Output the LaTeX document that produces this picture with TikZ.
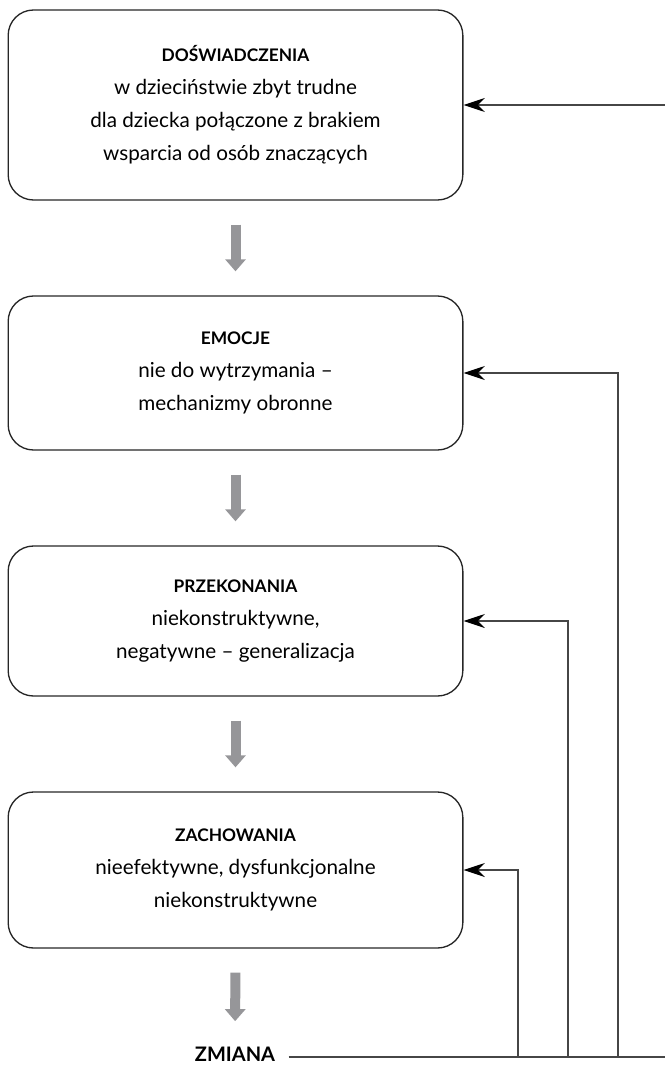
\documentclass[tikz,border=0pt]{standalone}
\usepackage{fontspec}
\setmainfont{Lato}
\usetikzlibrary{arrows.meta}
\definecolor{flowgray}{RGB}{150,150,153}
\definecolor{linegray}{RGB}{70,70,70}
\newcommand{\hd}[1]{{\fontsize{13}{24.75}\selectfont\bfseries #1}}

\begin{document}
\begin{tikzpicture}[x=0.75pt, y=-0.75pt,
    box/.style={draw=black!85, line width=1pt, rounded corners=19pt, minimum width=341pt, align=center,
      font=\fontsize{15.5}{24.75}\selectfont},
    flow/.style={draw=flowgray, line width=7.5pt, -{Triangle[length=9pt, width=15pt]}, shorten <=18pt, shorten >=18pt},
    back/.style={draw=linegray, line width=1pt, -{Stealth[length=16pt, width=10.5pt, black]}}]
    \useasboundingbox (0,0) rectangle (664,1066);

    \node[box, minimum height=142.5pt] (d) at (235.5,105)
      {\hd{DOŚWIADCZENIA}\\ w dzieciństwie zbyt trudne\\ dla dziecka połączone z brakiem\\ wsparcia od osób znaczących};
    \node[box, minimum height=115.5pt] (e) at (235.5,373)
      {\hd{EMOCJE}\\ nie do wytrzymania --\\ mechanizmy obronne};
    \node[box, minimum height=112.5pt] (p) at (235.5,621)
      {\hd{PRZEKONANIA}\\ niekonstruktywne,\\ negatywne -- generalizacja};
    \node[box, minimum height=117pt] (z) at (235.5,870)
      {\hd{ZACHOWANIA}\\ nieefektywne, dysfunkcjonalne\\ niekonstruktywne};
    \node[inner sep=0pt, font=\fontsize{15}{18}\selectfont\bfseries] (zm) at (235,1054) {ZMIANA};

    \draw[flow] (d.south) -- (e.north);
    \draw[flow] (e.south) -- (p.north);
    \draw[flow] (p.south) -- (z.north);
    \draw[flow, shorten >=19pt] (z.south) -- (zm.north);

    \coordinate (k1) at (518,1057);
    \coordinate (k2) at (568,1057);
    \coordinate (k3) at (618,1057);
    \coordinate (k4) at (667,1057);

    \draw[draw=linegray, line width=1pt, shorten <=10pt] (zm.east |- k4) -- (k4);
    \draw[back] (k4) |- (d);
    \draw[back] (k3) |- (e);
    \draw[back] (k2) |- (p);
    \draw[back] (k1) |- (z);
\end{tikzpicture}
\end{document}
